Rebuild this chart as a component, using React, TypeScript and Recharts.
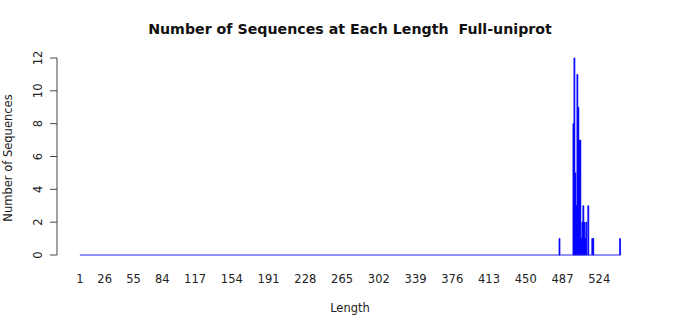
import { Bar, BarChart, ReferenceLine, XAxis, YAxis } from 'recharts';

const lengths = [484, 498, 499, 500, 501, 502, 503, 504, 505, 506, 507, 508, 509, 510, 511, 513, 517, 518, 545];
const counts = [1, 8, 12, 5, 3, 11, 9, 7, 7, 1, 2, 3, 2, 1, 2, 3, 1, 1, 1];
const xTicks = [1, 26, 55, 84, 117, 154, 191, 228, 265, 302, 339, 376, 413, 450, 487, 524];
const yTicks = [0, 2, 4, 6, 8, 10, 12];
const minLength = 1;
const maxLength = 545;

const data = lengths.map((length, i) => ({ length, count: counts[i] }));

const font = '"DejaVu Sans", sans-serif';

const YTick = ({ x, y, payload }: any) => (
  <text
    x={x - 6}
    y={y}
    transform={`rotate(-90, ${x - 6}, ${y})`}
    textAnchor="middle"
    fontSize={11.5}
    fontFamily={font}
    fill="#222"
  >
    {payload.value}
  </text>
);

const App = () => (
  <div style={{ position: 'absolute', left: 0, top: 0, width: 700, height: 315, background: '#fff' }}>
    <div
      style={{
        position: 'absolute',
        left: 0,
        top: 21,
        width: 700,
        textAlign: 'center',
        fontFamily: font,
        fontWeight: 'bold',
        fontSize: 14.2,
        color: '#111',
      }}
    >
      Number of Sequences at Each Length&nbsp; Full-uniprot
    </div>
    <div
      style={{
        position: 'absolute',
        left: 8,
        top: 158,
        fontFamily: font,
        fontSize: 11.5,
        color: '#222',
        whiteSpace: 'nowrap',
        transform: 'translate(-50%, -50%) rotate(-90deg)',
      }}
    >
      Number of Sequences
    </div>
    <div
      style={{
        position: 'absolute',
        left: 0,
        top: 301,
        width: 700,
        textAlign: 'center',
        fontFamily: font,
        fontSize: 11.5,
        color: '#222',
      }}
    >
      Length
    </div>
    <BarChart
      width={700}
      height={315}
      data={data}
      margin={{ top: 58, right: 60, bottom: 30, left: 0 }}
      style={{ position: 'absolute', left: 0, top: 0 }}
    >
      <XAxis
        dataKey="length"
        type="number"
        domain={[-22, 565]}
        ticks={xTicks}
        interval={0}
        axisLine={false}
        tickLine={false}
        tickMargin={14}
        height={30}
        tick={{ fontSize: 11.5, fontFamily: font, fill: '#222' }}
      />
      <YAxis
        width={57}
        domain={[0, 12]}
        ticks={yTicks}
        interval={0}
        tickSize={7}
        axisLine={{ stroke: '#444' }}
        tickLine={{ stroke: '#444' }}
        tick={<YTick />}
      />
      <ReferenceLine
        segment={[
          { x: minLength, y: 0 },
          { x: maxLength, y: 0 },
        ]}
        stroke="#2222ee"
        strokeWidth={1}
      />
      <Bar dataKey="count" fill="#0000ff" stroke="#0000ff" strokeWidth={0.8} barSize={1} isAnimationActive={false} />
    </BarChart>
  </div>
);

export default App;
